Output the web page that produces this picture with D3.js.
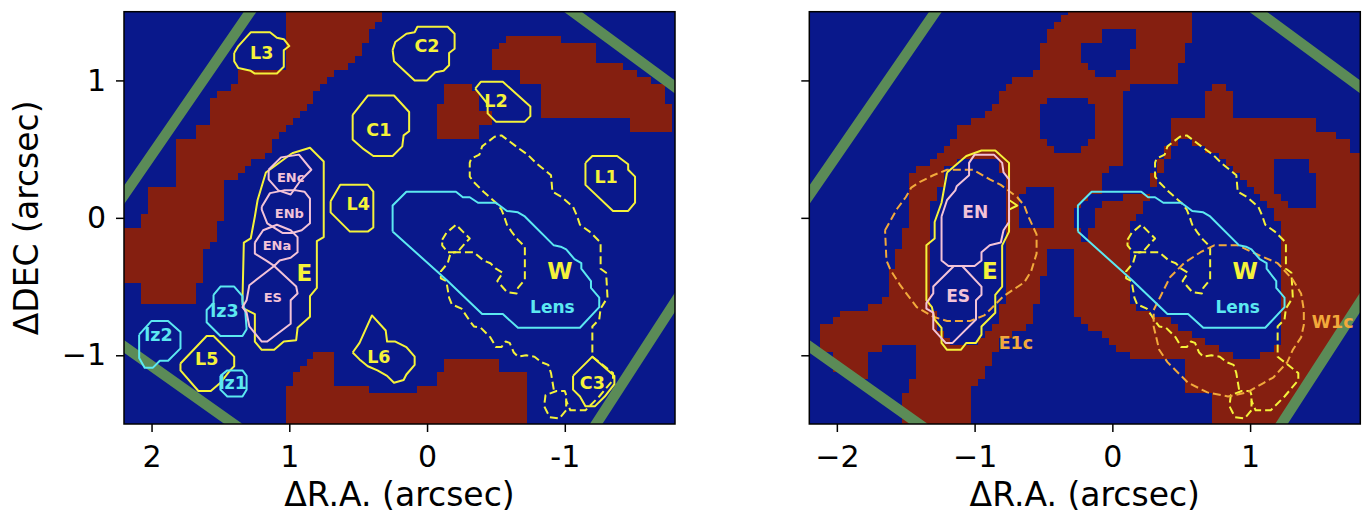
<!DOCTYPE html>
<html><head><meta charset="utf-8">
<script src="https://cdn.jsdelivr.net/npm/d3@7"></script>
<style>body{margin:0;background:#fff;}svg{display:block;}text{font-family:"DejaVu Sans",sans-serif;}</style>
</head><body><svg id="c" width="1370" height="515"></svg>
<script>
// ---------------- DATA (arcsec) ----------------
const xTicksLeft = [2, 1, 0, -1];
const xTickLabelsLeft = ["2", "1", "0", "-1"];
const xTicksRight = [-2, -1, 0, 1];
const xTickLabelsRight = ["\u22122", "\u22121", "0", "1"];
const yTicks = [1, 0, -1];
const yTickLabels = ["1", "0", "\u22121"];
const xLabel = "\u0394R.A. (arcsec)";
const yLabel = "\u0394DEC (arcsec)";

// mask (0.05" pixels) - left panel red regions (left-panel RA coords)
const maskLeftBand = [[1.02,1.55],[0.32,1.55],[0.32,1.43],[0.41,1.38],[0.47,1.22],[0.61,1.08],[0.77,0.97],[0.82,0.87],[0.87,0.81],[0.92,0.73],[0.98,0.68],[1.03,0.64],[1.08,0.58],[1.12,0.53],[1.17,0.48],[1.22,0.42],[1.28,0.39],[1.33,0.33],[1.37,0.28],[1.47,0.28],[1.47,-0.03],[1.52,-0.03],[1.52,-0.17],[1.57,-0.17],[1.57,-0.22],[1.62,-0.22],[1.62,-0.47],[1.67,-0.47],[1.67,-0.62],[2.07,-0.62],[2.07,-0.47],[2.25,-0.47],[2.25,-0.07],[2.07,-0.07],[2.07,0.02],[2.03,0.02],[2.03,0.22],[1.82,0.22],[1.82,0.58],[1.67,0.58],[1.67,0.68],[1.57,0.68],[1.57,0.88],[1.52,0.88],[1.52,0.93],[1.42,0.93],[1.42,0.98],[1.37,0.98],[1.37,1.08],[1.02,1.08]];
const maskLeftBottom = [[1.02,-1.55],[1.02,-1.23],[0.97,-1.18],[0.92,-1.08],[0.82,-1.03],[0.82,-0.98],[0.67,-0.98],[0.67,-1.23],[0.42,-1.23],[0.42,-1.28],[0.07,-1.28],[0.07,-1.23],[-0.09,-1.23],[-0.09,-1.13],[-0.13,-1.13],[-0.13,-1.03],[-0.54,-1.03],[-0.54,-1.13],[-0.74,-1.13],[-0.74,-1.55]];
const maskLeftMid = [[-0.13,0.98],[-0.34,0.98],[-0.34,0.93],[-0.38,0.93],[-0.38,0.78],[-0.49,0.78],[-0.49,0.68],[-0.39,0.68],[-0.39,0.59],[-0.08,0.59],[-0.08,0.83],[-0.13,0.83]];
const maskLeftTopRight = [[-0.59,1.33],[-0.98,1.33],[-0.98,1.28],[-1.24,1.28],[-1.24,1.13],[-1.43,1.13],[-1.43,1.08],[-1.53,1.08],[-1.53,1.03],[-1.62,1.03],[-1.62,0.98],[-1.73,0.98],[-1.73,0.83],[-1.79,0.83],[-1.79,0.63],[-1.48,0.63],[-1.48,0.73],[-0.84,0.73],[-0.84,0.98],[-0.70,0.98],[-0.70,1.09],[-0.49,1.09],[-0.49,1.23],[-0.54,1.23],[-0.54,1.28],[-0.59,1.28]];

// mask - right panel (right-panel axis coords)
const maskRightEast = [[-0.32,1.55],[0.58,1.55],[0.58,1.28],[0.53,1.24],[0.48,1.03],[0.44,0.98],[0.13,0.98],[0.08,0.88],[0.08,0.40],[-0.08,0.33],[-0.08,0.18],[-0.22,0.13],[-0.27,0.02],[-0.22,-0.21],[-0.47,-0.21],[-0.47,-0.43],[-0.52,-0.43],[-0.52,-0.62],[-0.57,-0.62],[-0.57,-0.74],[-0.62,-0.79],[-0.72,-0.84],[-0.81,-0.89],[-0.87,-1.03],[-0.92,-1.14],[-0.97,-1.18],[-1.01,-1.23],[-1.01,-1.55],[-1.52,-1.55],[-1.52,-1.27],[-1.47,-1.27],[-1.47,-1.18],[-1.43,-1.18],[-1.43,-0.92],[-1.67,-0.92],[-1.67,-0.97],[-1.77,-0.97],[-1.77,-1.18],[-1.92,-1.18],[-1.92,-1.12],[-2.03,-1.12],[-2.03,-0.97],[-2.12,-0.97],[-2.12,-0.82],[-2.07,-0.77],[-2.03,-0.73],[-1.92,-0.68],[-1.67,-0.62],[-1.63,-0.52],[-1.57,-0.23],[-1.52,-0.17],[-1.47,0.04],[-1.47,0.33],[-1.37,0.37],[-1.32,0.42],[-1.27,0.47],[-1.21,0.53],[-1.16,0.58],[-1.12,0.63],[-1.07,0.68],[-0.97,0.73],[-0.92,0.77],[-0.87,0.83],[-0.82,0.88],[-0.76,0.98],[-0.62,1.03],[-0.57,1.08],[-0.52,1.13],[-0.51,1.24],[-0.46,1.38],[-0.41,1.43],[-0.32,1.49]];
const maskRightWest = [[0.74,0.98],[0.82,0.98],[0.82,0.93],[0.88,0.93],[0.88,0.73],[1.49,0.73],[1.49,0.63],[1.64,0.63],[1.64,0.58],[1.72,0.58],[1.72,0.47],[1.85,0.47],[1.85,-0.54],[1.20,-1.55],[0.74,-1.55],[0.74,-1.29],[0.53,-1.29],[0.53,-1.02],[0.13,-1.02],[-0.01,-0.91],[-0.06,-0.87],[-0.22,-0.76],[-0.27,-0.67],[-0.27,-0.16],[-0.17,-0.16],[-0.09,0.13],[0.26,0.18],[0.30,0.31],[0.39,0.49],[0.44,0.73],[0.69,0.73],[0.69,0.93],[0.74,0.93]];
const holeRightW = [[0.52,0.57],[0.64,0.53],[0.86,0.39],[1.01,0.24],[1.15,0.06],[1.25,-0.09],[1.25,-0.85],[1.15,-0.99],[0.93,-1.02],[0.74,-0.92],[0.57,-0.84],[0.39,-0.74],[0.21,-0.67],[0.13,-0.60],[0.13,-0.05],[0.24,0.09],[0.35,0.31],[0.42,0.49]];
const holeRightSide = [[1.17,0.43],[1.43,0.43],[1.43,0.33],[1.49,0.33],[1.49,0.06],[1.30,0.06],[1.17,0.20]];
const holeRightRound = [[-0.43,0.88],[-0.22,0.88],[-0.11,0.79],[-0.11,0.58],[-0.27,0.48],[-0.43,0.48],[-0.52,0.58],[-0.52,0.79]];
const holeRightTop = [[-0.08,1.38],[0.18,1.38],[0.18,1.23],[0.13,1.23],[0.13,1.09],[0.04,1.09],[0.04,1.03],[-0.11,1.03],[-0.11,1.09],[-0.16,1.09],[-0.16,1.14],[-0.22,1.14],[-0.22,1.28],[-0.08,1.28]];
const holeRightSquare = [[-0.62,0.23],[-0.43,0.23],[-0.43,-0.06],[-0.67,-0.06],[-0.67,0.18],[-0.62,0.18]];
const holeRightE = [[-1.19,0.39],[-0.85,0.43],[-0.79,0.31],[-0.79,-0.60],[-0.87,-0.81],[-0.99,-0.91],[-1.14,-0.93],[-1.25,-0.85],[-1.32,-0.60],[-1.32,0.06],[-1.25,0.24]];

// field-of-view frame corners (left-panel coords)
const frameCorners = [[0.497,2.645],[2.709,-0.574],[-0.400,-2.781],[-2.485,0.448]];

// contours - left panel
const cL3 = [[1.40,1.20],[1.37,1.25],[1.28,1.35],[1.14,1.35],[1.09,1.31],[1.04,1.30],[1.00,1.25],[1.04,1.22],[1.04,1.10],[1.09,1.05],[1.25,1.05],[1.28,1.07],[1.37,1.09],[1.40,1.14]];
const cC1 = [[0.54,0.75],[0.43,0.89],[0.24,0.89],[0.13,0.77],[0.13,0.63],[0.17,0.60],[0.18,0.52],[0.25,0.45],[0.39,0.45],[0.46,0.50],[0.54,0.57]];
const cC2 = [[0.25,1.22],[0.23,1.28],[0.15,1.34],[0.09,1.35],[0.07,1.39],[-0.15,1.39],[-0.20,1.34],[-0.20,1.23],[-0.16,1.20],[-0.16,1.11],[-0.12,1.07],[-0.06,1.06],[0.00,1.00],[0.09,1.00],[0.24,1.14]];
const cL2 = [[-0.35,0.94],[-0.39,0.99],[-0.55,0.99],[-0.75,0.81],[-0.75,0.74],[-0.71,0.70],[-0.50,0.70],[-0.44,0.76],[-0.44,0.83]];
const cL1 = [[-1.15,0.40],[-1.20,0.45],[-1.38,0.45],[-1.46,0.39],[-1.46,0.35],[-1.51,0.30],[-1.51,0.11],[-1.46,0.05],[-1.35,0.05],[-1.15,0.24]];
const cL4 = [[0.70,0.12],[0.63,0.24],[0.43,0.24],[0.39,0.19],[0.39,-0.07],[0.43,-0.10],[0.56,-0.10],[0.70,0.04]];
const cE = [[0.98,0.47],[0.85,0.51],[0.75,0.41],[0.75,-0.14],[0.80,-0.17],[0.80,-0.51],[0.85,-0.57],[0.85,-0.72],[0.94,-0.80],[0.95,-0.89],[1.04,-0.90],[1.11,-0.96],[1.20,-0.96],[1.25,-0.90],[1.25,-0.70],[1.33,-0.66],[1.34,-0.60],[1.33,-0.18],[1.28,-0.15],[1.25,0.01],[1.23,0.13],[1.17,0.33]];
const cL5 = [[1.79,-1.06],[1.60,-0.86],[1.55,-0.86],[1.40,-1.01],[1.40,-1.08],[1.43,-1.11],[1.50,-1.20],[1.57,-1.26],[1.66,-1.26],[1.79,-1.11]];
const cL6 = [[0.54,-0.98],[0.49,-0.91],[0.40,-0.71],[0.30,-0.82],[0.29,-0.90],[0.23,-0.90],[0.15,-0.94],[0.09,-1.01],[0.09,-1.07],[0.15,-1.14],[0.17,-1.18],[0.24,-1.20],[0.29,-1.15],[0.36,-1.11],[0.43,-1.08],[0.49,-1.03]];
const cC3 = [[-1.06,-1.15],[-1.20,-1.01],[-1.36,-1.15],[-1.36,-1.21],[-1.29,-1.30],[-1.22,-1.37],[-1.15,-1.37],[-1.11,-1.30],[-1.06,-1.25]];
const cLz2 = [[2.09,-0.85],[2.00,-0.75],[1.88,-0.75],[1.79,-0.83],[1.79,-0.95],[1.88,-1.04],[1.94,-1.04],[1.99,-1.09],[2.05,-1.09],[2.09,-1.02]];
const cLz3 = [[1.55,-0.56],[1.50,-0.50],[1.40,-0.50],[1.34,-0.57],[1.34,-0.63],[1.32,-0.67],[1.31,-0.81],[1.34,-0.86],[1.50,-0.86],[1.60,-0.76],[1.60,-0.67],[1.55,-0.62]];
const cLz1 = [[1.50,-1.15],[1.45,-1.11],[1.34,-1.11],[1.31,-1.15],[1.31,-1.25],[1.34,-1.30],[1.45,-1.30],[1.50,-1.25]];
const cENc = [[1.15,0.35],[1.06,0.44],[0.93,0.46],[0.84,0.35],[0.92,0.27],[0.99,0.17],[1.08,0.20],[1.15,0.28]];
const cENb = [[1.20,0.08],[1.14,0.18],[1.04,0.20],[0.95,0.20],[0.89,0.19],[0.85,0.14],[0.85,-0.04],[0.91,-0.09],[0.98,-0.11],[1.05,-0.11],[1.16,-0.04],[1.20,0.06]];
const cENa = [[1.25,-0.18],[1.19,-0.09],[1.09,-0.05],[0.99,-0.09],[0.94,-0.14],[0.94,-0.25],[0.99,-0.29],[1.07,-0.31],[1.11,-0.35],[1.17,-0.31],[1.25,-0.26]];
const cES = [[1.11,-0.35],[0.95,-0.50],[0.94,-0.55],[0.99,-0.60],[0.99,-0.77],[1.16,-0.90],[1.20,-0.90],[1.29,-0.79],[1.31,-0.69],[1.34,-0.65],[1.31,-0.60],[1.29,-0.49]];
// shared (both panels, left-panel coords)
const cLens = [[0.25,-0.10],[0.25,0.09],[0.15,0.19],[-0.21,0.19],[-0.26,0.15],[-0.31,0.15],[-0.37,0.11],[-0.50,0.11],[-0.58,0.05],[-0.66,0.04],[-0.71,0.01],[-0.92,-0.20],[-0.97,-0.21],[-1.01,-0.23],[-1.07,-0.30],[-1.12,-0.33],[-1.12,-0.37],[-1.19,-0.46],[-1.19,-0.51],[-1.25,-0.58],[-1.25,-0.65],[-1.11,-0.80],[-0.66,-0.80],[-0.55,-0.70],[-0.40,-0.70],[-0.14,-0.45]];
const cWdash = [[-0.92,-1.25],[-0.90,-1.13],[-0.88,-1.07],[-0.83,-1.05],[-0.78,-1.01],[-0.72,-1.00],[-0.66,-1.01],[-0.63,-0.98],[-0.60,-0.91],[-0.57,-0.90],[-0.54,-0.94],[-0.50,-0.94],[-0.46,-0.87],[-0.44,-0.85],[-0.39,-0.80],[-0.34,-0.79],[-0.31,-0.75],[-0.25,-0.66],[-0.18,-0.63],[-0.16,-0.58],[-0.15,-0.52],[-0.14,-0.46],[-0.10,-0.44],[-0.10,-0.39],[-0.15,-0.33],[-0.17,-0.26],[-0.20,-0.25],[-0.34,-0.25],[-0.41,-0.31],[-0.46,-0.33],[-0.50,-0.37],[-0.55,-0.40],[-0.51,-0.46],[-0.58,-0.54],[-0.65,-0.55],[-0.66,-0.51],[-0.71,-0.45],[-0.71,-0.21],[-0.66,-0.16],[-0.62,-0.11],[-0.58,-0.05],[-0.56,0.01],[-0.54,0.06],[-0.50,0.11],[-0.41,0.19],[-0.34,0.26],[-0.31,0.30],[-0.31,0.40],[-0.32,0.43],[-0.38,0.46],[-0.40,0.52],[-0.49,0.59],[-0.54,0.60],[-0.58,0.57],[-0.66,0.51],[-0.73,0.46],[-0.79,0.40],[-0.90,0.31],[-0.91,0.19],[-0.98,0.15],[-1.06,0.08],[-1.09,0.01],[-1.11,-0.05],[-1.18,-0.10],[-1.26,-0.18],[-1.26,-0.37],[-1.30,-0.40],[-1.31,-0.58],[-1.26,-0.66],[-1.25,-0.74],[-1.20,-0.79],[-1.20,-1.01],[-1.35,-1.13],[-1.35,-1.18],[-1.25,-1.30],[-1.15,-1.40],[-1.04,-1.40],[-1.01,-1.33]];
const cWloopLow = [[-1.01,-1.29],[-1.00,-1.26],[-0.94,-1.26],[-0.86,-1.29],[-0.85,-1.37],[-0.89,-1.45],[-0.96,-1.46],[-1.01,-1.40]];
const cWloopUp = [[-0.11,-0.16],[-0.14,-0.11],[-0.21,-0.05],[-0.26,-0.10],[-0.31,-0.15],[-0.28,-0.18],[-0.22,-0.25],[-0.15,-0.25],[-0.11,-0.20]];

// contours - right panel (right-panel axis coords)
const cE_R = [[-1.20,0.33],[-1.06,0.45],[-0.95,0.49],[-0.85,0.49],[-0.75,0.40],[-0.75,0.13],[-0.69,0.09],[-0.75,0.06],[-0.75,-0.10],[-0.80,-0.20],[-0.80,-0.50],[-0.85,-0.56],[-0.85,-0.69],[-0.95,-0.79],[-0.95,-0.85],[-0.99,-0.91],[-1.06,-0.91],[-1.10,-0.96],[-1.20,-0.96],[-1.24,-0.91],[-1.24,-0.80],[-1.29,-0.74],[-1.31,-0.65],[-1.35,-0.60],[-1.35,-0.20],[-1.29,-0.15],[-1.29,-0.03],[-1.24,0.11]];
const cEN_R = [[-1.24,0.01],[-1.20,0.13],[-1.14,0.20],[-1.13,0.23],[-1.04,0.31],[-1.04,0.40],[-1.00,0.46],[-0.86,0.46],[-0.80,0.40],[-0.79,0.33],[-0.75,0.28],[-0.75,-0.03],[-0.79,-0.09],[-0.81,-0.18],[-0.89,-0.20],[-0.95,-0.25],[-0.95,-0.31],[-1.00,-0.35],[-1.19,-0.35],[-1.24,-0.31]];
const cES_R = [[-1.15,-0.35],[-1.09,-0.35],[-0.95,-0.50],[-0.95,-0.56],[-0.99,-0.60],[-0.99,-0.74],[-1.12,-0.87],[-1.16,-0.91],[-1.21,-0.91],[-1.30,-0.81],[-1.30,-0.69],[-1.35,-0.66],[-1.35,-0.62],[-1.30,-0.55],[-1.30,-0.50]];
const cE1c = [[-1.65,-0.09],[-1.56,0.07],[-1.50,0.15],[-1.46,0.22],[-1.40,0.26],[-1.30,0.31],[-1.20,0.35],[-1.01,0.35],[-0.89,0.28],[-0.81,0.24],[-0.69,0.15],[-0.64,0.09],[-0.61,0.01],[-0.55,-0.12],[-0.55,-0.26],[-0.59,-0.39],[-0.64,-0.47],[-0.79,-0.57],[-0.87,-0.65],[-0.93,-0.71],[-1.03,-0.75],[-1.20,-0.75],[-1.30,-0.72],[-1.42,-0.65],[-1.54,-0.49],[-1.61,-0.38],[-1.64,-0.31]];
const cW1c = [[0.30,-0.67],[0.35,-0.57],[0.42,-0.43],[0.52,-0.33],[0.64,-0.25],[0.74,-0.20],[0.91,-0.20],[1.06,-0.27],[1.20,-0.33],[1.31,-0.45],[1.37,-0.55],[1.39,-0.67],[1.39,-0.78],[1.37,-0.87],[1.31,-0.96],[1.27,-1.05],[1.17,-1.16],[1.10,-1.20],[0.98,-1.27],[0.84,-1.30],[0.69,-1.27],[0.55,-1.20],[0.40,-1.05],[0.34,-0.96],[0.30,-0.79]];

// labels [text, x, y]
const labelsLeftYellow = [["L3",1.20,1.20],["C2",0.00,1.25],["C1",0.35,0.64],["L2",-0.50,0.85],["L1",-1.30,0.30],["L4",0.50,0.10],["L5",1.60,-1.03],["L6",0.35,-1.01],["C3",-1.20,-1.20]];
const labelsLeftCyan = [["lz2",1.95,-0.85],["lz3",1.47,-0.675],["lz1",1.41,-1.20]];
const labelsLeftPink = [["ENc",0.99,0.29],["ENb",1.00,0.03],["ENa",1.09,-0.20],["ES",1.12,-0.58]];
const labelE_L = ["E",0.89,-0.40];
const labelW = ["W",-0.965,-0.39];
const labelLens = ["Lens",-0.91,-0.65];
const labelsRightPink = [["EN",-0.995,0.046],["ES",-1.12,-0.57]];
const labelE_R = ["E",-0.89,-0.39];
const labelsRightOrange = [["E1c",-0.70,-0.91],["W1c",1.60,-0.76]];

// ---------------- STYLE ----------------
const BLUE = "#09188b", RED = "#851f10", GREEN = "#5b8b57";
const YEL = "#f5f23a", CYAN = "#5ce8f1", PINK = "#f3c3d8", ORANGE = "#f2a93b";

// ---------------- DRAW ----------------
const svg = d3.select("#c");
const top0 = 11.7, bot0 = 424;
const yS = d3.scaleLinear().domain([-1.5, 1.5]).range([bot0, top0]);
const xSL = d3.scaleLinear().domain([2.2, -1.8]).range([124, 675]);
const xSR = d3.scaleLinear().domain([-2.2, 1.8]).range([809.3, 1360.3]);

function panel(id, xs) {
  const [r0, r1] = xs.range();
  svg.append("clipPath").attr("id", id).append("rect")
    .attr("x", r0).attr("y", top0).attr("width", r1 - r0).attr("height", bot0 - top0);
  const g = svg.append("g").attr("clip-path", `url(#${id})`);
  g.append("rect").attr("x", r0).attr("y", top0).attr("width", r1 - r0).attr("height", bot0 - top0).attr("fill", BLUE);
  return g;
}

function drawMask(g, xs, reds, holes) {
  const step = 0.05;
  const dom = xs.domain();
  const iMin = Math.round(Math.min(...dom) / step), iMax = Math.round(Math.max(...dom) / step);
  const mg = g.append("g").attr("shape-rendering", "crispEdges");
  for (let j = -30; j <= 30; j++) {
    const cy = j * step;
    let run = null;
    for (let i = iMin; i <= iMax + 1; i++) {
      const cx = i * step;
      const red = i <= iMax && reds.some(p => d3.polygonContains(p, [cx, cy])) && !holes.some(p => d3.polygonContains(p, [cx, cy]));
      if (red && run === null) run = i;
      if (!red && run !== null) {
        const xa = Math.round(xs((run - 0.5) * step)), xb = Math.round(xs((i - 0.5) * step));
        const ya = Math.round(yS((j + 0.5) * step)), yb = Math.round(yS((j - 0.5) * step));
        mg.append("rect").attr("x", Math.min(xa, xb)).attr("width", Math.abs(xb - xa))
          .attr("y", ya).attr("height", yb - ya).attr("fill", RED);
        run = null;
      }
    }
  }
}

function poly(g, xs, pts, color, opts = {}) {
  const line = d3.line().x(d => xs(d[0])).y(d => yS(d[1]));
  const data = opts.open ? pts : pts.concat([pts[0]]);
  g.append("path").attr("d", line(data)).attr("fill", "none").attr("stroke", color)
    .attr("stroke-width", opts.width || 2).attr("stroke-linejoin", "round")
    .attr("stroke-dasharray", opts.dash ? "8,4" : null);
}

function label(g, xs, l, color, size) {
  g.append("text").attr("x", xs(l[1])).attr("y", yS(l[2])).text(l[0])
    .attr("text-anchor", "middle").attr("dominant-baseline", "central")
    .attr("font-weight", "bold").attr("font-size", size).attr("fill", color);
}

const mirror = pts => pts.map(p => [-p[0], p[1]]);

// ---- Left panel
const gL = panel("clipL", xSL);
drawMask(gL, xSL, [maskLeftBand, maskLeftBottom, maskLeftMid, maskLeftTopRight], []);
poly(gL, xSL, frameCorners, GREEN, {width: 10.5});
poly(gL, xSL, cWdash, YEL, {dash: true, open: true});
poly(gL, xSL, cWloopLow, YEL, {dash: true});
poly(gL, xSL, cWloopUp, YEL, {dash: true});
[cL3, cC1, cC2, cL2, cL1, cL4, cE, cL5, cL6, cC3].forEach(c => poly(gL, xSL, c, YEL));
[cLz2, cLz3, cLz1, cLens].forEach(c => poly(gL, xSL, c, CYAN));
[cENc, cENb, cENa, cES].forEach(c => poly(gL, xSL, c, PINK));
labelsLeftYellow.forEach(l => label(gL, xSL, l, YEL, 17.5));
labelsLeftCyan.forEach(l => label(gL, xSL, l, CYAN, 17.5));
labelsLeftPink.forEach(l => label(gL, xSL, l, PINK, 13));
label(gL, xSL, labelE_L, YEL, 23);
label(gL, xSL, labelW, YEL, 23);
label(gL, xSL, labelLens, CYAN, 17);

// ---- Right panel
const gR = panel("clipR", xSR);
drawMask(gR, xSR, [maskRightEast, maskRightWest], [holeRightW, holeRightSide, holeRightRound, holeRightTop, holeRightSquare, holeRightE]);
poly(gR, xSR, mirror(frameCorners), GREEN, {width: 10.5});
poly(gR, xSR, mirror(cWdash), YEL, {dash: true, open: true});
poly(gR, xSR, mirror(cWloopLow), YEL, {dash: true});
poly(gR, xSR, mirror(cWloopUp), YEL, {dash: true});
poly(gR, xSR, cE1c, ORANGE, {dash: true});
poly(gR, xSR, cW1c, ORANGE, {dash: true});
poly(gR, xSR, cE_R, YEL);
poly(gR, xSR, mirror(cLens), CYAN);
poly(gR, xSR, cEN_R, PINK);
poly(gR, xSR, cES_R, PINK);
labelsRightPink.forEach(l => label(gR, xSR, l, PINK, 17));
label(gR, xSR, labelE_R, YEL, 23);
label(gR, xSR, [labelW[0], -labelW[1], labelW[2]], YEL, 23);
label(gR, xSR, [labelLens[0], -labelLens[1], labelLens[2]], CYAN, 17);
labelsRightOrange.forEach(l => label(gR, xSR, l, ORANGE, 17.5));

// ---- Axes
function styleAxis(a) {
  a.select(".domain").remove();
  a.selectAll(".tick line").attr("stroke", "#000").attr("stroke-width", 1.5);
  a.selectAll(".tick text").attr("font-size", 30).attr("fill", "#000").attr("font-family", "DejaVu Sans, sans-serif");
}
styleAxis(svg.append("g").attr("transform", `translate(0,${bot0})`)
  .call(d3.axisBottom(xSL).tickValues(xTicksLeft).tickFormat((d, i) => xTickLabelsLeft[i]).tickSize(8).tickPadding(14)));
styleAxis(svg.append("g").attr("transform", `translate(0,${bot0})`)
  .call(d3.axisBottom(xSR).tickValues(xTicksRight).tickFormat((d, i) => xTickLabelsRight[i]).tickSize(8).tickPadding(14)));
styleAxis(svg.append("g").attr("transform", `translate(${xSL.range()[0]},0)`)
  .call(d3.axisLeft(yS).tickValues(yTicks).tickFormat((d, i) => yTickLabels[i]).tickSize(8).tickPadding(10)));
styleAxis(svg.append("g").attr("transform", `translate(${xSR.range()[0]},0)`)
  .call(d3.axisLeft(yS).tickValues(yTicks).tickFormat("").tickSize(8)));

[xSL, xSR].forEach(xs => {
  const [r0, r1] = xs.range();
  svg.append("rect").attr("x", r0).attr("y", top0).attr("width", r1 - r0).attr("height", bot0 - top0)
    .attr("fill", "none").attr("stroke", "#000").attr("stroke-width", 1.5);
  svg.append("text").attr("x", (r0 + r1) / 2).attr("y", 506).attr("text-anchor", "middle")
    .attr("font-size", 33).attr("fill", "#000").text(xLabel);
});
svg.append("text").attr("transform", `translate(38,${(top0 + bot0) / 2}) rotate(-90)`)
  .attr("text-anchor", "middle").attr("font-size", 33).attr("fill", "#000").text(yLabel);
</script></body></html>
